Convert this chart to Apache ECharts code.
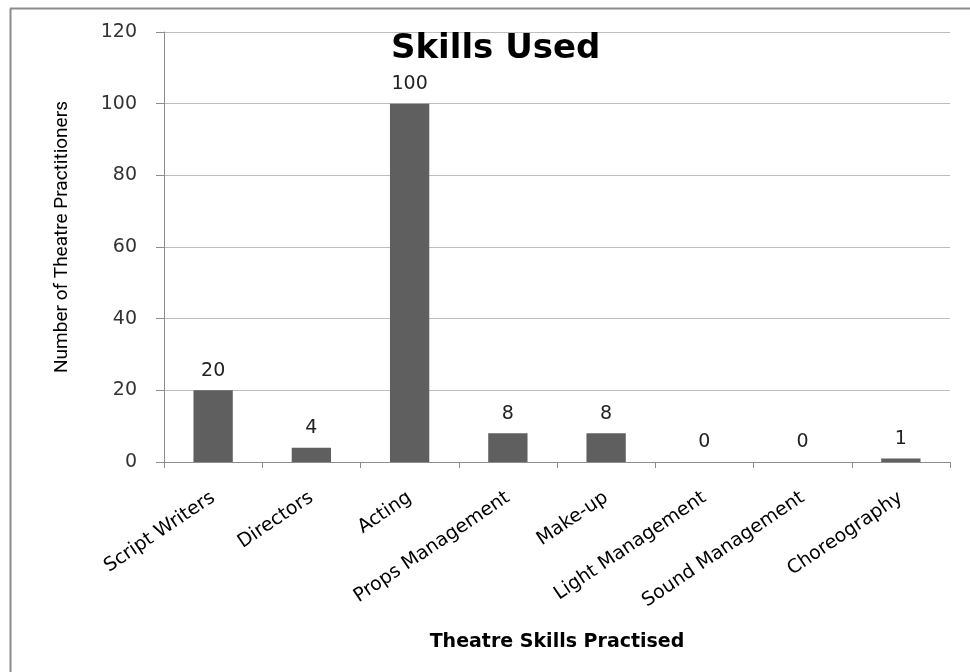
<!DOCTYPE html>
<html>
<head>
<meta charset="utf-8">
<script src="https://cdn.jsdelivr.net/npm/echarts@6/dist/echarts.min.js"></script>
<style>html,body{margin:0;padding:0;background:#fff}#c{width:970px;height:672px}</style>
</head>
<body>
<div id="c"></div>
<script>
const categories = ["Script Writers", "Directors", "Acting", "Props Management", "Make-up", "Light Management", "Sound Management", "Choreography"];
const values = [20, 4, 100, 8, 8, 0, 0, 1];
const yTicks = [0, 20, 40, 60, 80, 100, 120];

const chart = echarts.init(document.getElementById('c'));
chart.setOption({
  animation: false,
  backgroundColor: '#fff',
  title: {
    text: 'Skills Used',
    left: 386, top: 27,
    textStyle: { fontFamily: 'DejaVu Sans', fontWeight: 'bold', fontSize: 34, color: '#000' }
  },
  graphic: [
    { type: 'line', shape: { x1: 10.5, y1: 8.5, x2: 10.5, y2: 672 }, style: { stroke: '#8c8c8c', lineWidth: 2 } },
    { type: 'line', shape: { x1: 10, y1: 8.5, x2: 970, y2: 8.5 }, style: { stroke: '#8c8c8c', lineWidth: 2 } }
  ],
  grid: { left: 164, right: 20, top: 32, bottom: 210 },
  xAxis: {
    type: 'category',
    data: categories,
    name: 'Theatre Skills Practised',
    nameLocation: 'middle',
    nameGap: 171,
    nameTextStyle: { fontFamily: 'DejaVu Sans', fontWeight: 'bold', fontSize: 19, color: '#000' },
    axisLine: { lineStyle: { color: '#8c8c8c', width: 1 } },
    axisTick: { show: true, length: 6, alignWithLabel: false, lineStyle: { color: '#8c8c8c' } },
    axisLabel: { rotate: 34, fontFamily: 'DejaVu Sans', fontSize: 19, color: '#000', margin: 34, interval: 0 }
  },
  yAxis: {
    type: 'value',
    min: yTicks[0], max: yTicks[yTicks.length - 1], interval: 20,
    name: 'Number of Theatre Practitioners',
    nameLocation: 'middle',
    nameGap: 92,
    nameTextStyle: { fontFamily: 'Roboto', fontSize: 19, color: '#000', padding: [0, 0, 0, 20] },
    axisLine: { show: true, lineStyle: { color: '#8c8c8c', width: 1 } },
    axisTick: { show: true, length: 8, lineStyle: { color: '#8c8c8c' } },
    axisLabel: { fontFamily: 'DejaVu Sans', fontSize: 19, color: '#333', margin: 27 },
    splitLine: { lineStyle: { color: '#bdbdbd', width: 1 } }
  },
  series: [{
    type: 'bar',
    data: values,
    barWidth: '40%',
    itemStyle: { color: '#5f5f5f' },
    label: { show: true, position: 'top', distance: 10, fontFamily: 'DejaVu Sans', fontSize: 19, color: '#222' }
  }]
});
</script>
</body>
</html>
